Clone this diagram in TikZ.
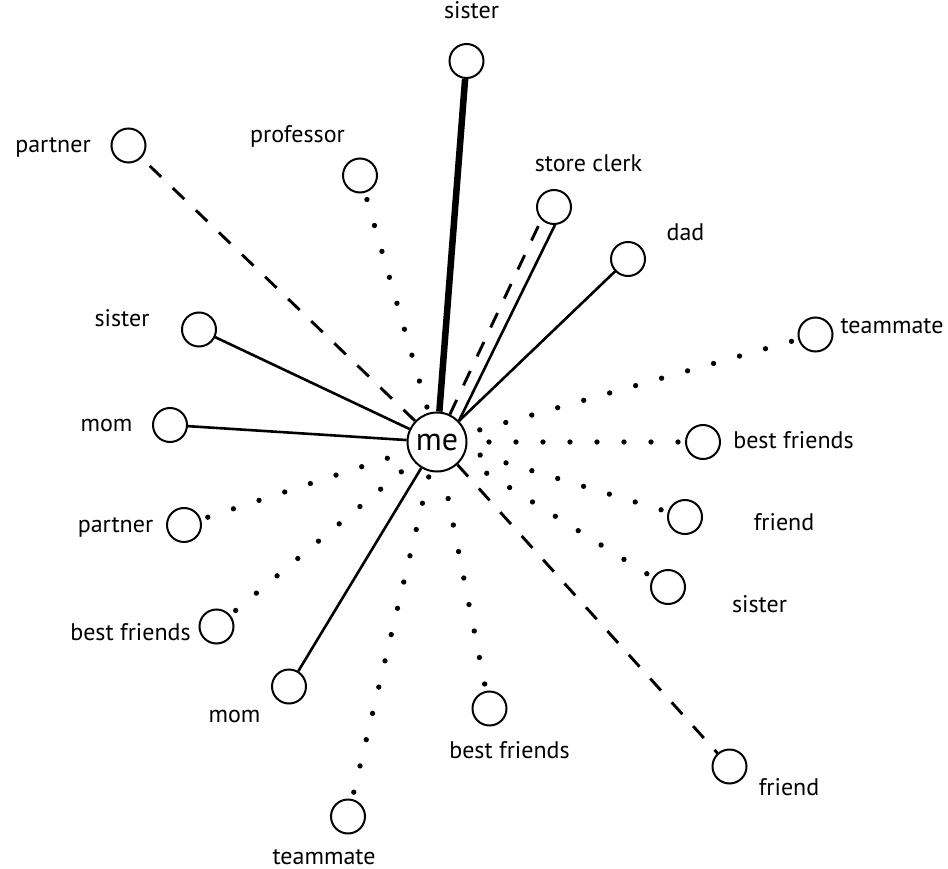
\documentclass[tikz,border=0pt]{standalone}
\usepackage{fontspec}
\setmainfont{PT Sans}
\begin{document}
\begin{tikzpicture}[x=1pt,y=-1pt,
  person/.style={circle, draw, line width=2pt, minimum size=34pt, inner sep=0pt},
  self/.style={circle, draw, line width=2pt, minimum size=59pt, inner sep=0pt,
    font=\fontsize{32}{32}\selectfont},
  tag/.style={anchor=base, inner sep=0pt, font=\fontsize{24}{24}\selectfont},
  tie/.style={line width=2.6pt},
  strongtie/.style={line width=6.5pt},
  weaktie/.style={line width=2.9pt, dash pattern=on 16pt off 16pt},
  acquaint/.style={line width=5.3pt, line cap=round, dash pattern=on 0pt off 27pt,
    shorten <=7pt, shorten >=3pt}]
\useasboundingbox (0,0) rectangle (948,869);

% centre
\node[self] (me) at (437,442) {me};

% people around
\node[person] (sisA)  at (466.5,61)   {};
\node[person] (partA) at (128.5,145.5){};
\node[person] (prof)  at (360,175.5)  {};
\node[person] (clerk) at (554,207)    {};
\node[person] (dad)   at (628,259)    {};
\node[person] (sisB)  at (199,329.5)  {};
\node[person] (teamA) at (815.5,334.5){};
\node[person] (momA)  at (170,425)    {};
\node[person] (bestA) at (703,442)    {};
\node[person] (partB) at (184,525)    {};
\node[person] (friA)  at (685,517)    {};
\node[person] (sisC)  at (668,587)    {};
\node[person] (bestB) at (216.5,626.5){};
\node[person] (momB)  at (289,686.5)  {};
\node[person] (bestC) at (489.5,708.5){};
\node[person] (friB)  at (729.5,766.5){};
\node[person] (teamB) at (348,816.5)  {};

% labels
\node[tag] (lsisA)  at (471.5,18.5) {sister};
\node[tag] (lpartA) at (53,153)     {partner};
\node[tag] (lprof)  at (297.5,143)  {professor};
\node[tag] (lclerk) at (588.5,171.5){store clerk};
\node[tag] (ldad)   at (685.5,241)  {dad};
\node[tag] (lsisB)  at (122,326)    {sister};
\node[tag] (lteamA) at (892,333)    {teammate};
\node[tag] (lmomA)  at (106.5,431)  {mom};
\node[tag] (lbestA) at (793.5,448)  {best friends};
\node[tag] (lpartB) at (115.5,532)  {partner};
\node[tag] (lfriA)  at (784,530)    {friend};
\node[tag] (lsisC)  at (759.5,612)  {sister};
\node[tag] (lbestB) at (130.5,640)  {best friends};
\node[tag] (lmomB)  at (234.5,722)  {mom};
\node[tag] (lbestC) at (509.5,758)  {best friends};
\node[tag] (lfriB)  at (789,795)    {friend};
\node[tag] (lteamB) at (324,864)    {teammate};

% strong and ordinary ties
\draw[strongtie] (me) -- (sisA);
\draw[tie] (me) -- (dad);
\draw[tie] (me.44) -- (clerk.-87);
\draw[tie] (me) -- (sisB);
\draw[tie] (me) -- (momA);
\draw[tie] (me) -- (momB);

% weak ties
\draw[weaktie] (me) -- (partA);
\draw[weaktie] (me.65) -- (clerk.225);
\draw[weaktie] (me) -- (friB);

% acquaintances
\draw[acquaint] (prof)  -- (me);
\draw[acquaint] (teamA) -- (me);
\draw[acquaint] (bestA) -- (me);
\draw[acquaint] (partB) -- (me);
\draw[acquaint] (friA)  -- (me);
\draw[acquaint] (sisC)  -- (me);
\draw[acquaint] (bestB) -- (me);
\draw[acquaint] (bestC) -- (me);
\draw[acquaint] (teamB) -- (me);
\end{tikzpicture}
\end{document}
